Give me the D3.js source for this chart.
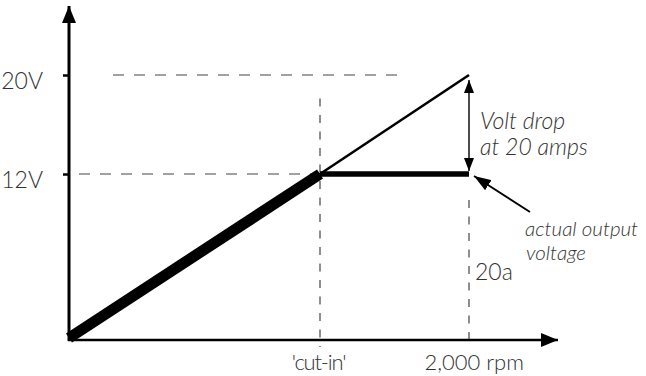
<!DOCTYPE html>
<html>
<head>
<meta charset="utf-8">
<script src="https://cdn.jsdelivr.net/npm/d3@7/dist/d3.min.js"></script>
<style>
  html, body { margin: 0; padding: 0; background: #fff; }
  svg { display: block; }
  text { font-family: Lato, "Open Sans", sans-serif; font-weight: 300; fill: #333; }
</style>
</head>
<body>
<svg id="chart" width="646" height="376"></svg>
<script>
// ---- data ----
const rpm = [0, 1255, 2000];              // engine speed points: start, cut-in, 2,000 rpm
const openCircuitVolts = [0, 12, 20];     // unloaded generator voltage
const outputVolts = [0, 12, 12];          // actual output voltage (regulated at 12V)
const voltTicks = [12, 20];
const voltTickLabels = ["12V", "20V"];
const rpmTicks = [1255, 2000];
const rpmTickLabels = ["'cut-in'", "2,000 rpm"];
const dropLabel = ["Volt drop", "at 20 amps"];
const outputLabel = ["actual output", "voltage"];
const currentLabel = "20a";

// ---- scales ----
const svg = d3.select("#chart");
const x = d3.scaleLinear().domain([0, 2000]).range([69, 469]);
const y = d3.scaleLinear().domain([0, 12, 20]).range([338, 174, 75]);

const defs = svg.append("defs");
function head(id, w, l) {
  defs.append("marker").attr("id", id)
    .attr("viewBox", `0 ${-w/2} ${l} ${w}`)
    .attr("refX", l).attr("refY", 0)
    .attr("markerUnits", "userSpaceOnUse")
    .attr("markerWidth", l).attr("markerHeight", w)
    .attr("orient", "auto-start-reverse")
    .append("path").attr("d", `M0,${-w/2}L${l},0L0,${w/2}Z`).attr("fill", "#000");
}
head("axisHead", 14, 17);
head("dropHead", 10, 13);
head("pointHead", 12, 17);

const x0 = x(0), yBase = y(0) + 2;

// ---- guide dashes ----
const guides = svg.append("g").attr("fill", "none").attr("stroke", "#444").attr("stroke-width", 1.2);
guides.append("line").attr("x1", x(220)).attr("x2", x(1665)).attr("y1", y(20)).attr("y2", y(20))
  .attr("stroke-dasharray", "11,10");
guides.append("line").attr("x1", x0 + 10).attr("x2", x(rpmTicks[0])).attr("y1", y(12)).attr("y2", y(12))
  .attr("stroke-dasharray", "11,10");
guides.append("line").attr("x1", x(rpmTicks[0])).attr("x2", x(rpmTicks[0]))
  .attr("y1", y(18.1)).attr("y2", yBase + 7).attr("stroke-dasharray", "8,8.5");
guides.append("line").attr("x1", x(rpmTicks[1])).attr("x2", x(rpmTicks[1]))
  .attr("y1", y(12) + 26).attr("y2", yBase + 7).attr("stroke-dasharray", "8,8.5");

// ---- axes ----
const yAxis = d3.axisLeft(y).tickValues(voltTicks)
  .tickFormat((d, i) => voltTickLabels[i]).tickSize(6).tickPadding(20);
const gy = svg.append("g").attr("transform", `translate(${x0},0)`).call(yAxis);
gy.select(".domain").remove();
gy.selectAll(".tick line").attr("stroke", "#000").attr("stroke-width", 2.5);
gy.selectAll(".tick text").attr("font-size", 23).attr("dy", "0.6em")
  .attr("font-family", null).attr("fill", null);

svg.append("line").attr("x1", x0).attr("x2", x0).attr("y1", yBase + 1).attr("y2", 6)
  .attr("stroke", "#000").attr("stroke-width", 3).attr("marker-end", "url(#axisHead)");
svg.append("line").attr("x1", x0 - 1).attr("x2", 558).attr("y1", yBase).attr("y2", yBase)
  .attr("stroke", "#000").attr("stroke-width", 2.5).attr("marker-end", "url(#axisHead)");

const xAxis = d3.axisBottom(x).tickValues(rpmTicks)
  .tickFormat((d, i) => rpmTickLabels[i]).tickSize(0).tickPadding(10);
const gx = svg.append("g").attr("transform", `translate(0,${yBase})`).call(xAxis);
gx.select(".domain").remove();
gx.selectAll(".tick text").attr("font-size", 22).attr("dy", "0.9em")
  .attr("font-family", null).attr("fill", null)
  .attr("letter-spacing", (d, i) => i === 0 ? -1.2 : 0)
  .attr("text-anchor", (d, i) => i === 0 ? "middle" : "start")
  .attr("dx", (d, i) => i === 0 ? -2 : -45);

// ---- data lines ----
const pts = rpm.map((r, i) => ({ r, open: openCircuitVolts[i], out: outputVolts[i] }));
const lineOpen = d3.line().x(d => x(d.r)).y(d => y(d.open));
const lineOut = d3.line().x(d => x(d.r)).y(d => y(d.out));

svg.append("path").datum(pts).attr("d", lineOpen)
  .attr("fill", "none").attr("stroke", "#000").attr("stroke-width", 2.6);
svg.append("path").datum(pts.slice(0, 2)).attr("d", lineOut)
  .attr("fill", "none").attr("stroke", "#000").attr("stroke-width", 11);
svg.append("path").datum(pts.slice(1)).attr("d", lineOut)
  .attr("fill", "none").attr("stroke", "#000").attr("stroke-width", 5.5);

// ---- annotations ----
const xe = x(rpm[2]);
svg.append("line").attr("x1", xe).attr("x2", xe)
  .attr("y1", y(openCircuitVolts[2]) + 5).attr("y2", y(outputVolts[2]) - 3)
  .attr("stroke", "#000").attr("stroke-width", 1.4)
  .attr("marker-start", "url(#dropHead)").attr("marker-end", "url(#dropHead)");

svg.append("line").attr("x1", xe + 61).attr("y1", y(outputVolts[2]) + 38)
  .attr("x2", xe + 5).attr("y2", y(outputVolts[2]) + 2)
  .attr("stroke", "#000").attr("stroke-width", 1.8)
  .attr("marker-end", "url(#pointHead)");

svg.append("text").attr("x", xe + 11).attr("y", 129)
  .attr("font-size", 23).attr("font-style", "italic").text(dropLabel[0]);
svg.append("text").attr("x", xe + 11).attr("y", 155)
  .attr("font-size", 23).attr("font-style", "italic").text(dropLabel[1]);
svg.append("text").attr("x", xe + 56).attr("y", 236)
  .attr("font-size", 20.5).attr("font-style", "italic").text(outputLabel[0]);
svg.append("text").attr("x", xe + 57).attr("y", 260)
  .attr("font-size", 20.5).attr("font-style", "italic").text(outputLabel[1]);
svg.append("text").attr("x", xe + 6).attr("y", 280)
  .attr("font-size", 23).text(currentLabel);
</script>
</body>
</html>
